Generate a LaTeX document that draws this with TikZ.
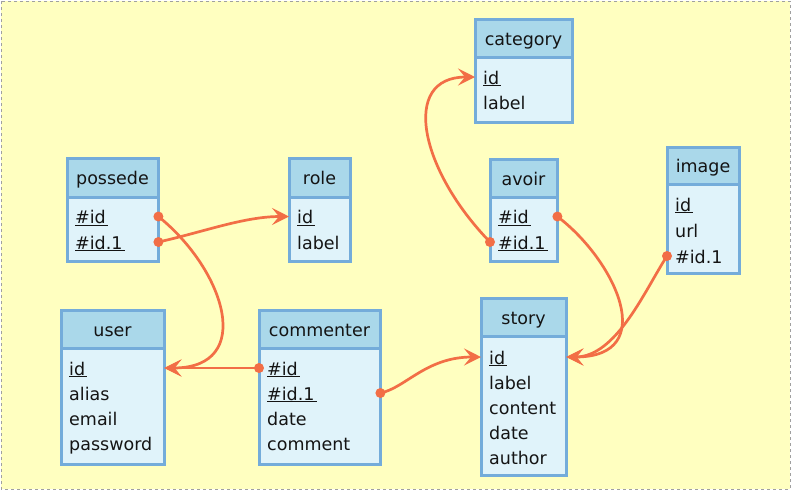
\documentclass[tikz,border=0pt]{standalone}
\usepackage{fontspec}
\setmainfont{DejaVu Sans}
\usetikzlibrary{arrows.meta}
\definecolor{bgc}{RGB}{255,255,192}
\definecolor{bgline}{RGB}{160,160,160}
\definecolor{headfill}{RGB}{170,216,234}
\definecolor{bodyfill}{RGB}{224,243,250}
\definecolor{tblborder}{RGB}{116,172,218}
\definecolor{linec}{RGB}{242,110,70}
\definecolor{txt}{RGB}{20,20,20}
\newcommand\ulx[1]{\underline{#1\kern2pt}}
\tikzset{
  tblhead/.style={draw=tblborder, line width=3pt, fill=headfill},
  tblbody/.style={draw=tblborder, line width=3pt, fill=bodyfill},
  tabletitle/.style={font=\fontsize{17.5}{20}\selectfont, text height=14pt, text depth=0pt, inner sep=0pt, text=txt},
  field/.style={font=\fontsize{17.5}{20}\selectfont, text height=14pt, text depth=0pt, inner ysep=0pt, inner xsep=8pt, anchor=west, align=left, text=txt},
  conn/.style={draw=linec, line width=2.7pt, >={Stealth[length=17pt,width=17pt,inset=7pt]}, ->},
  enddot/.style={fill=linec}
}
\newcommand\ertable[7]{%
  \path[tblbody] (#2,#5) rectangle (#3,#6);
  \path[tblhead] (#2,#4) rectangle (#3,#5);
  \node[tabletitle] (#1) at ({(#2+#3)/2},{(#4+#5)/2}) {#7};}
\newcommand\erfield[5]{%
  \pgfmathsetmacro\fw{#3-#2-16}%
  \node[field, text width=\fw pt] (#1) at (#2,#4) {#5};}
\begin{document}
\begin{tikzpicture}[x=1pt,y=-1pt]
\useasboundingbox (0,0) rectangle (792,491);
\path[fill=bgc, draw=bgline, dashed, line width=0.8pt] (1,1) rectangle (790,489);

% possede
\ertable{possede}{67}{158}{158}{197}{261}{possede}
\erfield{possede-id}{67}{158}{216.5}{\ulx{\#id}}
\erfield{possede-id1}{67}{158}{242}{\ulx{\#id.1}}
% role
\ertable{role}{289}{350}{158}{197}{261}{role}
\erfield{role-id}{289}{350}{216.5}{\ulx{id}}
\erfield{role-label}{289}{350}{242}{label}
% user
\ertable{user}{61}{164}{310}{348}{464}{user}
\erfield{user-id}{61}{164}{368}{\ulx{id}}
\erfield{user-alias}{61}{164}{393}{alias}
\erfield{user-email}{61}{164}{418}{email}
\erfield{user-password}{61}{164}{443}{password}
% commenter
\ertable{commenter}{259}{380}{310}{348}{464}{commenter}
\erfield{commenter-id}{259}{380}{368}{\ulx{\#id}}
\erfield{commenter-id1}{259}{380}{393}{\ulx{\#id.1}}
\erfield{commenter-date}{259}{380}{418}{date}
\erfield{commenter-comment}{259}{380}{443}{comment}
% category
\ertable{category}{475}{572}{19}{57}{122}{category}
\erfield{category-id}{475}{572}{77}{\ulx{id}}
\erfield{category-label}{475}{572}{102}{label}
% avoir
\ertable{avoir}{490}{557}{159}{197}{261}{avoir}
\erfield{avoir-id}{490}{557}{216.5}{\ulx{\#id}}
\erfield{avoir-id1}{490}{557}{242}{\ulx{\#id.1}}
% image
\ertable{image}{667}{739}{147}{184}{273}{image}
\erfield{image-id}{667}{739}{204}{\ulx{id}}
\erfield{image-url}{667}{739}{230}{url}
\erfield{image-id1}{667}{739}{256}{\#id.1}
% story
\ertable{story}{481}{566}{298}{336}{475}{story}
\erfield{story-id}{481}{566}{357}{\ulx{id}}
\erfield{story-label}{481}{566}{382}{label}
\erfield{story-content}{481}{566}{407}{content}
\erfield{story-date}{481}{566}{432}{date}
\erfield{story-author}{481}{566}{457}{author}

% connectors
\draw[conn] (possede-id.east) .. controls +(67,54) and +(91,0) .. (user-id.east);
\draw[conn] (possede-id1.east) .. controls +(45,-10) and +(-45,0) .. (role-id.west);
\draw[conn] (commenter-id.west) -- (user-id.east);
\draw[conn] (commenter-id1.east) .. controls +(25,-5) and +(-55,0) .. (story-id.west);
\draw[conn] (avoir-id1.west) .. controls +(-70,-72) and +(-75,0) .. (category-id.west);
\draw[conn] (avoir-id.east) .. controls +(58,44) and +(94,0) .. (story-id.east);
\draw[conn] (image-id1.west) .. controls +(-22,34) and +(50,0) .. (story-id.east);

% start dots
\fill[enddot] (possede-id.east) circle (5pt);
\fill[enddot] (possede-id1.east) circle (5pt);
\fill[enddot] (commenter-id.west) circle (5pt);
\fill[enddot] (commenter-id1.east) circle (5pt);
\fill[enddot] (avoir-id1.west) circle (5pt);
\fill[enddot] (avoir-id.east) circle (5pt);
\fill[enddot] (image-id1.west) circle (5pt);
\end{tikzpicture}
\end{document}
